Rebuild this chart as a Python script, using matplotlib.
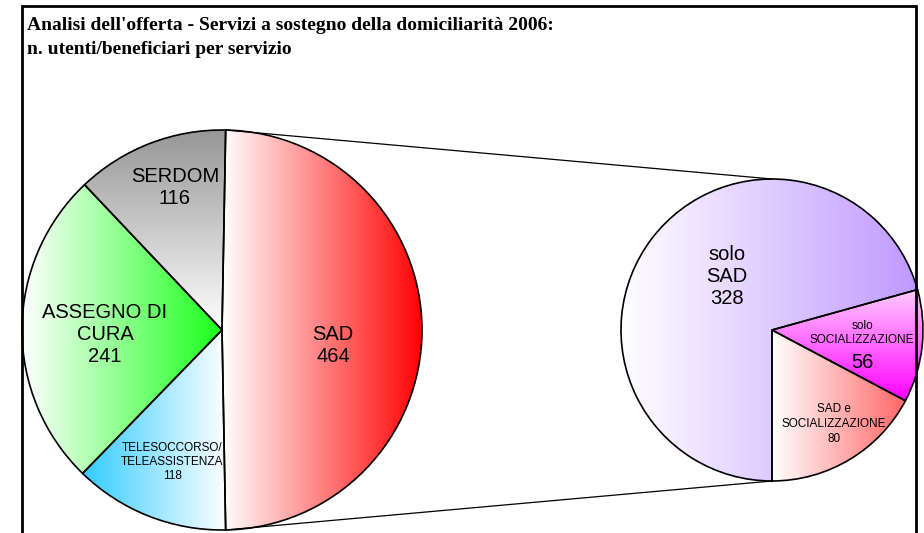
import numpy as np
import matplotlib
matplotlib.use('Agg')
import matplotlib.pyplot as plt
from matplotlib.colors import to_rgb
from matplotlib.patches import Rectangle

plt.rcParams['font.family'] = ['Liberation Sans', 'DejaVu Sans']

# ---- dati ----
main_labels = ['SAD', 'SERDOM', 'ASSEGNO DI\nCURA', 'TELESOCCORSO/\nTELEASSISTENZA']
main_values = [464, 116, 241, 118]
# gradienti: (colore iniziale, colore finale, verticale?)
main_grad = [('#FFFFFF', '#FF0000', False),
             ('#969696', '#FFFFFF', True),
             ('#FFFFFF', '#1AFF1A', False),
             ('#33CCFF', '#FFFFFF', False)]

sub_labels = ['SAD e\nSOCIALIZZAZIONE', 'solo\nSOCIALIZZAZIONE', 'solo\nSAD']
sub_values = [80, 56, 328]
sub_grad = [('#FFFFFF', '#FF6666', False),
            ('#FFCCFF', '#FF00FF', True),
            ('#FFFFFF', '#BF99FF', False)]

title = ("Analisi dell'offerta - Servizi a sostegno della domiciliarità 2006:\n"
         "n. utenti/beneficiari per servizio")

W, H = 924, 533


def py(y):
    # coordinate pixel (dall'alto) -> dati
    return H - y


def fill_gradient(ax, wedge, c_from, c_to, vertical):
    bb = wedge.get_path().get_extents()
    t = np.linspace(0, 1, 256)
    c0, c1 = np.array(to_rgb(c_from)), np.array(to_rgb(c_to))
    grad = c0 + (c1 - c0) * t[:, None]
    img = grad[:, None, :] if vertical else grad[None, :, :]
    im = ax.imshow(img, extent=(bb.x0, bb.x1, bb.y0, bb.y1), origin='upper',
                   aspect='auto', interpolation='bilinear', zorder=1)
    im.set_clip_path(wedge)


fig = plt.figure(figsize=(W / 100, H / 100), dpi=100)
ax = fig.add_axes([0, 0, 1, 1])

# torta principale
c_main, r_main = (222, py(330)), 200
start = -main_values[0] / sum(main_values) * 360 / 2
wedges_main, _ = ax.pie(main_values, startangle=start, center=c_main, radius=r_main,
                        colors=['none'] * len(main_values), counterclock=True,
                        wedgeprops=dict(edgecolor='black', linewidth=1.2, zorder=2))
for w, (a, b, v) in zip(wedges_main, main_grad):
    fill_gradient(ax, w, a, b, v)

# torta secondaria
c_sub, r_sub = (772, py(330)), 151
wedges_sub, _ = ax.pie(sub_values, startangle=270, center=c_sub, radius=r_sub,
                       colors=['none'] * len(sub_values), counterclock=True,
                       wedgeprops=dict(edgecolor='black', linewidth=1.2, zorder=2))
for w, (a, b, v) in zip(wedges_sub, sub_grad):
    fill_gradient(ax, w, a, b, v)

# linee di collegamento
sad = wedges_main[0]
for ang_main, ang_sub in [(sad.theta2, 90), (sad.theta1, 270)]:
    x0 = c_main[0] + r_main * np.cos(np.radians(ang_main))
    y0 = c_main[1] + r_main * np.sin(np.radians(ang_main))
    x1 = c_sub[0] + r_sub * np.cos(np.radians(ang_sub))
    y1 = c_sub[1] + r_sub * np.sin(np.radians(ang_sub))
    ax.plot([x0, x1], [y0, y1], color='black', lw=0.9, zorder=3)

# etichette
big, small = 14.5, 8.5
main_pos = [(333, 345), (175, 188), (105, 335), (172, 462)]
main_size = [big, big, big, small]
for lab, val, (x, y), fs in zip(main_labels, main_values, main_pos, main_size):
    ax.text(x, py(y), f'{lab}\n{val}', ha='center', va='center', fontsize=fs,
            linespacing=1.2, zorder=4)

sub_pos = [(834, 424), (862, 333), (727, 276)]
for i, (lab, val, (x, y)) in enumerate(zip(sub_labels, sub_values, sub_pos)):
    if i == 0:
        ax.text(x, py(y), f'{lab}\n{val}', ha='center', va='center', fontsize=small,
                linespacing=1.3, zorder=4)
    elif i == 1:
        ax.text(x, py(y), lab, ha='center', va='center', fontsize=small,
                linespacing=1.3, zorder=4)
        ax.text(x, py(362), f'{val}', ha='center', va='center', fontsize=big, zorder=4)
    else:
        ax.text(x, py(y), f'{lab}\n{val}', ha='center', va='center', fontsize=big,
                linespacing=1.2, zorder=4)

# titolo e cornice
ax.text(27, py(17), title, ha='left', va='top', fontsize=14, fontweight='bold',
        family=['Liberation Serif', 'DejaVu Serif'], linespacing=1.5)
ax.add_patch(Rectangle((22, -10), 916 - 22, py(6) + 10, fill=False,
                       edgecolor='black', lw=2, zorder=5))

ax.set_xlim(0, W)
ax.set_ylim(0, H)
ax.axis('off')
fig.savefig('out.png', dpi=100, facecolor='white')
